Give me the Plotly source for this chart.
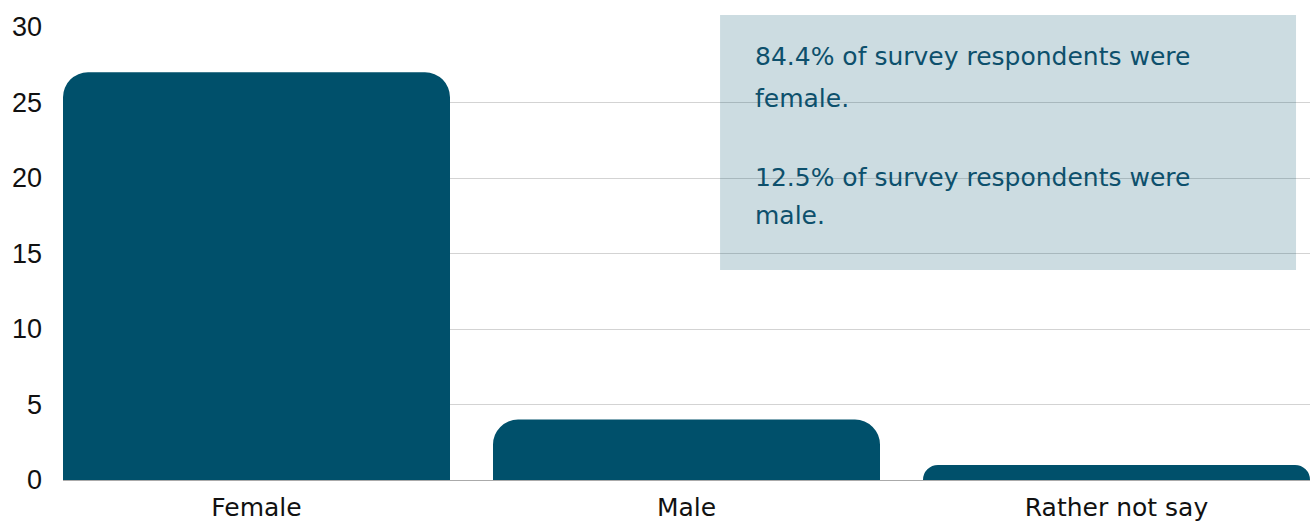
import plotly.graph_objects as go

categories = ["Female", "Male", "Rather not say"]
counts = [27, 4, 1]
note_lines = [
    "84.4% of survey respondents were",
    "female.",
    "12.5% of survey respondents were",
    "male.",
]
y_ticks = [0, 5, 10, 15, 20, 25, 30]

BAR = "#00506b"
TEXT = "#0d506c"
BOX = "rgba(0,80,107,0.2)"

fig = go.Figure()
fig.add_trace(go.Bar(x=categories, y=counts, marker=dict(color=BAR, line=dict(width=0)),
                     hoverinfo="skip"))

fig.update_layout(
    width=1314, height=522,
    margin=dict(l=63, r=4, t=27, b=42, autoexpand=False),
    paper_bgcolor="white", plot_bgcolor="white",
    bargap=0.1, barcornerradius=25,
    showlegend=False,
    xaxis=dict(range=[-0.45, 2.45], showgrid=False, showline=True, linecolor="#aaaaaa",
               linewidth=1, ticks="", ticklabelstandoff=5, automargin=False,
               tickfont=dict(family="DejaVu Sans", size=25, color="#111111")),
    yaxis=dict(range=[0, 30], tickvals=y_ticks, showgrid=True, gridcolor="#d3d3d3",
               gridwidth=1, zeroline=False, ticks="", ticklabelstandoff=20, automargin=False,
               tickfont=dict(family="Liberation Sans", size=27, color="#111111")),
)

fig.add_shape(type="rect", xref="paper", yref="paper", x0=0.5269, x1=0.9888,
              y0=0.4636, y1=1.0265, fillcolor=BOX, line=dict(width=0), layer="above")

ys = [0.9338, 0.843, 0.6667, 0.5828]
for txt, yy in zip(note_lines, ys):
    fig.add_annotation(text=txt, xref="paper", yref="paper", x=0.5533, y=yy,
                       xanchor="left", yanchor="middle", showarrow=False,
                       font=dict(family="DejaVu Sans", size=25, color=TEXT))

fig.write_html("out.html")
